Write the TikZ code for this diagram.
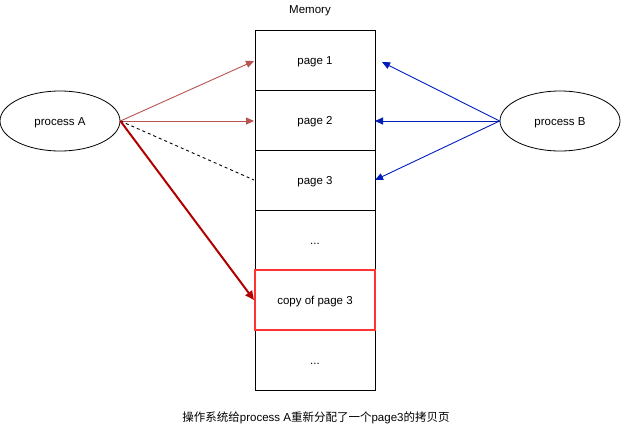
\documentclass[tikz,border=0pt]{standalone}
\usepackage{fontspec}
\setmainfont{Liberation Sans}
\newfontfamily\cjk{Noto Sans CJK SC}
\usetikzlibrary{arrows.meta,shapes.geometric}
\definecolor{redln}{HTML}{B85450}
\definecolor{blueln}{HTML}{001DBC}
\definecolor{darkred}{HTML}{B20000}
\definecolor{boxred}{HTML}{FF3333}
\tikzset{
  cell/.style={draw=black, line width=1pt, minimum width=120pt, minimum height=60pt, inner sep=0pt, text height=9pt, text depth=0pt, font=\fontsize{11.5}{13}\selectfont},
  proc/.style={draw=black, ellipse, line width=0.8pt, minimum width=120pt, minimum height=60pt, inner sep=0pt, text height=9pt, text depth=0pt, font=\fontsize{11.5}{13}\selectfont},
  redarr/.style={draw=redln, line width=0.9pt, -{Triangle[length=8pt,width=7pt]}},
  bluearr/.style={draw=blueln, line width=0.9pt, -{Triangle[length=8pt,width=7pt]}},
  dasharr/.style={draw=black, line width=0.9pt, dash pattern=on 3pt off 3pt},
  thickarr/.style={draw=darkred, line width=2pt, -{Triangle[length=9pt,width=8pt]}},
  lbl/.style={font=\fontsize{11.5}{13}\selectfont, inner sep=0pt}
}
\begin{document}
\begin{tikzpicture}[x=1pt,y=-1pt]
\useasboundingbox (0,0) rectangle (621,431);
\node[lbl] (mem) at (310,11) {Memory};
\node[cell] (p1) at (315,60) {page 1};
\node[cell] (p2) at (315,120) {page 2};
\node[cell] (p3) at (315,180) {page 3};
\node[cell] (p4) at (315,240) {...};
\node[cell] (p6) at (315,360) {...};
\node[cell, draw=boxred, line width=2pt] (p5) at (315,300) {copy of page 3};
\node[proc] (A) at (60,121) {process A};
\node[proc] (B) at (560,121) {process B};
\coordinate (a1) at (254,61);
\coordinate (a2) at (254,121);
\coordinate (a3) at (254,180);
\coordinate (a4) at (254,300);
\coordinate (b1) at (382,62);
\coordinate (b2) at (375,121);
\coordinate (b3) at (375,180);
\draw[redarr] (A.east) -- (a1);
\draw[redarr] (A.east) -- (a2);
\draw[dasharr] (A.east) -- (a3);
\draw[thickarr] (A.east) -- (a4);
\draw[bluearr] (B.west) -- (b1);
\draw[bluearr] (B.west) -- (b2);
\draw[bluearr] (B.west) -- (b3);
\node[lbl] (cap) at (316,418) {{\cjk 操作系统给}process A{\cjk 重新分配了一个}page3{\cjk 的拷贝页}};
\end{tikzpicture}
\end{document}
